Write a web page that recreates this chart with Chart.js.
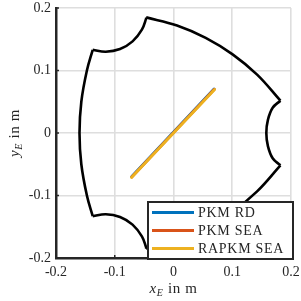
<!DOCTYPE html>
<html><head><meta charset="utf-8">
<script src="https://cdn.jsdelivr.net/npm/chart.js@4"></script>
<style>html,body{margin:0;padding:0;background:#fff}</style>
</head><body>
<canvas id="c" width="301" height="301"></canvas>
<script>
// ---- data ----
const tickValues = [-0.2, -0.1, 0, 0.1, 0.2];
const tickLabels = ['-0.2', '-0.1', '0', '0.1', '0.2'];
const seriesNames = ['PKM RD', 'PKM SEA', 'RAPKM SEA'];
const seriesColors = ['#0072BD', '#D95319', '#EDB120'];

const pkmRD    = [[-0.0710, -0.0695], [0.0690, 0.0705]];
const pkmSEA   = [[-0.0710, -0.0705], [0.0695, 0.0700]];
const rapkmSEA = [[-0.0715, -0.0712], [0.0700, 0.0695]];

// workspace boundary, pieces between the corners
const boundaryLeft = [[-0.1375, 0.133], [-0.1474, 0.1], [-0.1569, 0.05], [-0.16, 0], [-0.1569, -0.05], [-0.1474, -0.1], [-0.1375, -0.133]];
const boundaryTopLeft = [[-0.1375, 0.1333], [-0.1153, 0.130], [-0.0910, 0.1343], [-0.0697, 0.1466], [-0.0538, 0.1655], [-0.0465, 0.1835], [-0.0465, 0.185]];
const boundaryTop = [[-0.0465, 0.185], [0.006, 0.172], [0.0548, 0.1522], [0.1006, 0.1258], [0.1423, 0.0933], [0.182, 0.0517]];
const boundaryNotch = [[0.182, 0.0517], [0.1688, 0.0403], [0.1607, 0.0209], [0.158, 0], [0.1607, -0.0209], [0.1688, -0.0403], [0.182, -0.0517]];
const boundaryBottom = [[0.182, -0.0517], [0.1423, -0.0933], [0.1006, -0.1258], [0.0548, -0.1522], [0.006, -0.172], [-0.0465, -0.185]];
const boundaryBottomLeft = [[-0.0465, -0.185], [-0.0465, -0.1835], [-0.0538, -0.1655], [-0.0697, -0.1466], [-0.0910, -0.1343], [-0.1153, -0.130], [-0.1375, -0.1333]];

// ---- chart ----
const toPts = a => a.map(p => ({x: p[0], y: p[1]}));
const boundaryPieces = [boundaryLeft, boundaryTopLeft, boundaryTop, boundaryNotch, boundaryBottom, boundaryBottomLeft];
const datasets = [];
[pkmRD, pkmSEA, rapkmSEA].forEach((s, i) => datasets.push({
  label: seriesNames[i], data: toPts(s), showLine: true, pointRadius: 0,
  borderColor: seriesColors[i], borderWidth: 2.8, borderCapStyle: 'round',
  order: 3 - i, legendEntry: true
}));
boundaryPieces.forEach(p => datasets.push({
  label: 'boundary', data: toPts(p), showLine: true, pointRadius: 0,
  borderColor: '#000', borderWidth: 2.6, tension: 0.4, borderJoinStyle: 'round',
  order: 10, legendEntry: false
}));

const SERIF = '"Liberation Serif", "DejaVu Serif", serif';

function drawRich(ctx, parts, cx, baseline) {
  let w = 0;
  parts.forEach(p => { ctx.font = p.font; w += ctx.measureText(p.t).width; });
  let x = cx - w / 2;
  parts.forEach(p => { ctx.font = p.font; ctx.fillText(p.t, x, baseline + (p.dy || 0)); x += ctx.measureText(p.t).width; });
}

const decor = {
  id: 'decor',
  afterDraw(chart) {
    const ctx = chart.ctx, xs = chart.scales.x, ys = chart.scales.y, a = chart.chartArea;
    ctx.save();
    // inward tick marks
    ctx.strokeStyle = '#262626'; ctx.lineWidth = 1.5;
    tickValues.forEach(v => {
      const px = xs.getPixelForValue(v);
      ctx.beginPath(); ctx.moveTo(px, a.bottom); ctx.lineTo(px, a.bottom - 3); ctx.stroke();
      const py = ys.getPixelForValue(v);
      ctx.beginPath(); ctx.moveTo(a.left, py); ctx.lineTo(a.left + 3, py); ctx.stroke();
    });
    // axis titles
    ctx.fillStyle = '#262626'; ctx.textBaseline = 'alphabetic';
    const title = (v) => [
      {t: v, font: 'italic 15px ' + SERIF},
      {t: 'E', font: 'italic 10px ' + SERIF, dy: 3},
      {t: ' in m', font: '15px ' + SERIF}
    ];
    ctx.letterSpacing = '0.6px';
    drawRich(ctx, title('x'), (a.left + a.right) / 2, 293);
    ctx.save();
    ctx.translate(19, (a.top + a.bottom) / 2);
    ctx.rotate(-Math.PI / 2);
    drawRich(ctx, title('y'), 0, 0);
    ctx.restore();
    // legend
    const lx = 148, ly = 202, lw = 145, lh = 57;
    ctx.fillStyle = '#fff'; ctx.fillRect(lx, ly, lw, lh);
    ctx.strokeStyle = '#262626'; ctx.lineWidth = 2; ctx.strokeRect(lx, ly, lw, lh);
    const rows = chart.data.datasets.filter(d => d.legendEntry);
    ctx.font = '14px ' + SERIF; ctx.letterSpacing = '0.7px';
    ctx.textBaseline = 'middle'; ctx.textAlign = 'left';
    rows.forEach((d, i) => {
      const y = ly + 10.5 + i * 18;
      ctx.strokeStyle = d.borderColor; ctx.lineWidth = 2.8;
      ctx.beginPath(); ctx.moveTo(lx + 4, y); ctx.lineTo(lx + 46, y); ctx.stroke();
      ctx.fillStyle = '#262626';
      ctx.fillText(d.label, lx + 50, y + 0.5);
    });
    ctx.restore();
  }
};

const tickCallback = (v) => {
  const i = tickValues.findIndex(t => Math.abs(t - v) < 1e-9);
  return i >= 0 ? tickLabels[i] : '';
};
const setTicks = (s) => { s.ticks = tickValues.map(v => ({value: v})); };
const noPad = (s) => { s.paddingTop = 0; s.paddingBottom = 0; s.paddingLeft = 0; s.paddingRight = 0; };

new Chart(document.getElementById('c'), {
  type: 'scatter',
  data: {datasets},
  options: {
    responsive: false, animation: false, devicePixelRatio: 1,
    layout: {padding: {left: 0, right: 10, top: 8, bottom: 0}},
    plugins: {legend: {display: false}, tooltip: {enabled: false}},
    scales: {
      x: {
        type: 'linear', min: -0.2, max: 0.2, afterBuildTicks: setTicks,
        afterFit: s => { s.height = 43; noPad(s); },
        grid: {color: '#dedede', lineWidth: 1.6, drawTicks: false},
        border: {display: true, color: '#262626', width: 2.5},
        ticks: {callback: tickCallback, padding: 6, color: '#262626', font: {family: SERIF, size: 14}, maxRotation: 0}
      },
      y: {
        type: 'linear', min: -0.2, max: 0.2, afterBuildTicks: setTicks,
        afterFit: s => { s.width = 56; noPad(s); },
        grid: {color: '#dedede', lineWidth: 1.6, drawTicks: false},
        border: {display: true, color: '#262626', width: 2.5},
        ticks: {callback: tickCallback, padding: 5, color: '#262626', font: {family: SERIF, size: 14}}
      }
    }
  },
  plugins: [decor]
});
</script>
</body></html>
